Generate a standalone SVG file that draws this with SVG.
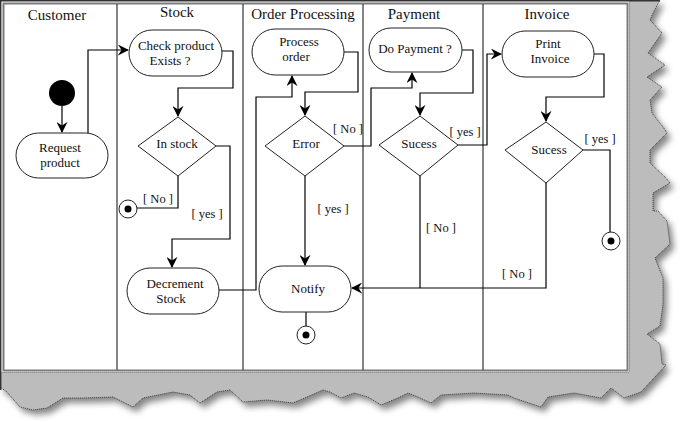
<svg xmlns="http://www.w3.org/2000/svg" width="683" height="422" viewBox="0 0 683 422">
<defs>
<style>
.t{font-family:"Liberation Serif","Times New Roman",serif;fill:#111;text-anchor:middle}
.h{font-size:15px}
.n{font-size:13px}
.l{font-size:12.5px}
.node{fill:#fff;stroke:#222;stroke-width:1}
.c{fill:none;stroke:#000;stroke-width:1.2}
.lane{stroke:#333;stroke-width:1.2}
</style>
<marker id="arr" viewBox="0 0 12 12" refX="11" refY="6" markerWidth="11" markerHeight="11" markerUnits="userSpaceOnUse" orient="auto">
<path d="M0,0 L12,6 L0,12 L4,6 z" fill="#000"/>
</marker>
<filter id="blur" x="-10%" y="-10%" width="120%" height="120%"><feGaussianBlur stdDeviation="3"/></filter>
</defs>
<rect width="683" height="422" fill="#fff"/>
<g id="paper-shadow">
<polygon transform="translate(4,5)" filter="url(#blur)" fill="#555" opacity="0.7" points="629,0 660,0 653,13 650,20 662,33 648,53 665,65 647,77 662,87 650,100 652,113 663,127 667,133 650,150 650,163 665,177 670,183 653,193 653,211 658,211 667,221 670,244 655,258 663,278 663,304 660,326 647,334 660,344 662,364 666,365 654,378 641,392 624,398 611,388 601,398 574,393 548,397 541,407 514,398 508,395 474,393 441,395 431,403 418,397 408,393 398,398 381,405 368,397 354,393 341,398 330,392 323,390 307,397 293,403 267,400 243,402 230,390 217,392 200,403 190,395 173,392 143,398 133,407 113,397 83,398 63,398 47,408 33,410 20,407 7,392 0,387 0,372 629,372"/>
<polygon fill="#bcbcbc" stroke="#222" stroke-width="0.8" stroke-dasharray="1,1" points="629,0 660,0 653,13 650,20 662,33 648,53 665,65 647,77 662,87 650,100 652,113 663,127 667,133 650,150 650,163 665,177 670,183 653,193 653,211 658,211 667,221 670,244 655,258 663,278 663,304 660,326 647,334 660,344 662,364 666,365 654,378 641,392 624,398 611,388 601,398 574,393 548,397 541,407 514,398 508,395 474,393 441,395 431,403 418,397 408,393 398,398 381,405 368,397 354,393 341,398 330,392 323,390 307,397 293,403 267,400 243,402 230,390 217,392 200,403 190,395 173,392 143,398 133,407 113,397 83,398 63,398 47,408 33,410 20,407 7,392 0,387 0,372 629,372"/>
<rect x="0" y="0" width="629" height="372" fill="#fff"/>
<path d="M0.7,390 V0.7 H660" fill="none" stroke="#333" stroke-width="1.4"/>
</g>
<g id="frame">
<rect x="3.5" y="3.5" width="624" height="367" fill="none" stroke="#7a7a7a" stroke-width="2"/>
<line class="lane" x1="117" y1="4" x2="117" y2="370"/>
<line class="lane" x1="243" y1="4" x2="243" y2="370"/>
<line class="lane" x1="363" y1="4" x2="363" y2="370"/>
<line class="lane" x1="483" y1="4" x2="483" y2="370"/>
<text class="t h" x="57" y="20">Customer</text>
<text class="t h" x="177" y="17">Stock</text>
<text class="t h" x="303" y="19">Order Processing</text>
<text class="t h" x="414" y="19">Payment</text>
<text class="t h" x="547" y="19">Invoice</text>
</g>
<g id="connectors">
<path class="c" d="M62,106 V132" marker-end="url(#arr)"/>
<path class="c" d="M88,133 V50 H128" marker-end="url(#arr)"/>
<path class="c" d="M222,51 H233 V88 H178 V116" marker-end="url(#arr)"/>
<path class="c" d="M216,146 H230 V239 H172 V267" marker-end="url(#arr)"/>
<path class="c" d="M178,176 V208 H137"/>
<path class="c" d="M219,290 H256 V97 H292 V76" marker-end="url(#arr)"/>
<path class="c" d="M344,52 H358 V92 H305 V115" marker-end="url(#arr)"/>
<path class="c" d="M344,146 H371 V88 H412 V73" marker-end="url(#arr)"/>
<path class="c" d="M305,176 V265" marker-end="url(#arr)"/>
<path class="c" d="M306,312 V326"/>
<path class="c" d="M462,50 H473 V93 H420 V115" marker-end="url(#arr)"/>
<path class="c" d="M458,145 H487 V54 H501" marker-end="url(#arr)"/>
<path class="c" d="M420,176 V288"/>
<path class="c" d="M594,54 H604 V97 H546 V121" marker-end="url(#arr)"/>
<path class="c" d="M583,150 H610 V232"/>
<path class="c" d="M546,183 V288 H352" marker-end="url(#arr)"/>
<text class="t l" x="158" y="203">[ No ]</text>
<text class="t l" x="207" y="218">[ yes ]</text>
<text class="t l" x="348" y="133">[ No ]</text>
<text class="t l" x="333" y="213">[ yes ]</text>
<text class="t l" x="465" y="136">[ yes ]</text>
<text class="t l" x="441" y="232">[ No ]</text>
<text class="t l" x="600" y="143">[ yes ]</text>
<text class="t l" x="517" y="278">[ No ]</text>
</g>
<g id="start"><circle cx="62" cy="93" r="13" fill="#000"/></g>
<g id="request-product">
<rect class="node" x="16" y="133" width="92" height="45" rx="22.5"/>
<text class="t n" x="60" y="152">Request</text>
<text class="t n" x="60" y="167">product</text>
</g>
<g id="check-product">
<rect class="node" x="129" y="30" width="93" height="46" rx="23"/>
<text class="t n" x="176" y="50">Check product</text>
<text class="t n" x="170" y="65">Exists ?</text>
</g>
<g id="in-stock">
<polygon class="node" points="178,117 216,146 178,176 138,146"/>
<text class="t n" x="177" y="148">In stock</text>
</g>
<g id="end-stock">
<circle class="node" cx="128" cy="209" r="9"/>
<circle cx="128" cy="209" r="3.5" fill="#000"/>
</g>
<g id="decrement-stock">
<rect class="node" x="127" y="268" width="92" height="46" rx="23"/>
<text class="t n" x="175" y="288">Decrement</text>
<text class="t n" x="171" y="303">Stock</text>
</g>
<g id="process-order">
<rect class="node" x="252" y="29" width="92" height="46" rx="23"/>
<text class="t n" x="299" y="46">Process</text>
<text class="t n" x="296" y="61">order</text>
</g>
<g id="error">
<polygon class="node" points="305,116 344,146 305,176 265,146"/>
<text class="t n" x="306" y="148">Error</text>
</g>
<g id="notify">
<rect class="node" x="259" y="266" width="92" height="46" rx="23"/>
<text class="t n" x="308" y="293">Notify</text>
</g>
<g id="end-notify">
<circle class="node" cx="306" cy="335" r="9"/>
<circle cx="306" cy="335" r="3.5" fill="#000"/>
</g>
<g id="do-payment">
<rect class="node" x="369" y="28" width="93" height="44" rx="22"/>
<text class="t n" x="415" y="53">Do Payment ?</text>
</g>
<g id="payment-success">
<polygon class="node" points="420,116 458,145 420,176 379,145"/>
<text class="t n" x="419" y="148">Sucess</text>
</g>
<g id="print-invoice">
<rect class="node" x="502" y="31" width="92" height="46" rx="23"/>
<text class="t n" x="548" y="48">Print</text>
<text class="t n" x="550" y="63">Invoice</text>
</g>
<g id="invoice-success">
<polygon class="node" points="546,122 583,150 546,183 505,150"/>
<text class="t n" x="549" y="154">Sucess</text>
</g>
<g id="end-invoice">
<circle class="node" cx="611" cy="241" r="9"/>
<circle cx="611" cy="241" r="3.5" fill="#000"/>
</g>
</svg>
